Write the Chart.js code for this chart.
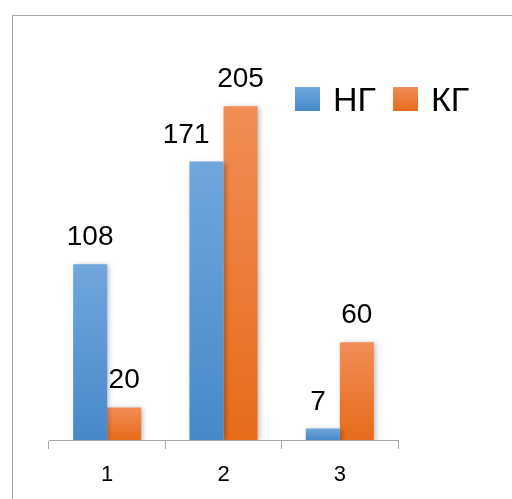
<!DOCTYPE html>
<html>
<head>
<meta charset="utf-8">
<script src="https://cdn.jsdelivr.net/npm/chart.js@4"></script>
<style>
  body { margin: 0; background: #fff; }
  #wrap { position: relative; width: 512px; height: 499px; overflow: hidden; }
  #frame { position: absolute; left: 12px; top: 15px; width: 600px; height: 600px;
           border-left: 1px solid #a6a6a6; border-top: 1px solid #a6a6a6; }
  canvas { position: absolute; left: 0; top: 0; }
</style>
</head>
<body>
<div id="wrap">
  <div id="frame"></div>
  <canvas id="chart" width="512" height="499"></canvas>
</div>
<script>
const categories = ["1", "2", "3"];
const seriesNames = ["НГ", "КГ"];
const ngValues = [108, 171, 7];
const kgValues = [20, 205, 60];

const FONT = "'Liberation Sans', Arial, sans-serif";

// per-bar vertical gradient, lighter at the top
function barGradient(top, bottom) {
    return function (ctx) {
        const chart = ctx.chart;
        if (!chart.chartArea || ctx.type !== "data") return bottom;
        const y = chart.scales.y;
        const yTop = y.getPixelForValue(ctx.raw);
        const yBase = y.getPixelForValue(0);
        const g = chart.ctx.createLinearGradient(0, yTop, 0, yBase + 0.01);
        g.addColorStop(0, top);
        g.addColorStop(1, bottom);
        return g;
    };
}

const colors = [
    ["#70a7dd", "#4689c9"],
    ["#f28d57", "#e66c1b"]
];

const decorations = {
    id: "decorations",
    beforeDatasetsDraw(chart) {
        const ctx = chart.ctx;
        ctx.save();
        ctx.shadowColor = "rgba(0,0,0,0.28)";
        ctx.shadowBlur = 5;
        ctx.shadowOffsetX = 2;
        ctx.shadowOffsetY = 1;
    },
    afterDatasetsDraw(chart) {
        const ctx = chart.ctx;
        ctx.restore();

        // value labels, pushed left when the next bar is in the way
        ctx.save();
        ctx.fillStyle = "#000";
        ctx.font = "28px " + FONT;
        ctx.textAlign = "center";
        ctx.textBaseline = "alphabetic";
        const metas = chart.data.datasets.map((ds, di) => chart.getDatasetMeta(di));
        chart.data.datasets.forEach((ds, di) => {
            metas[di].data.forEach((bar, i) => {
                const text = String(ds.data[i]);
                const baseline = bar.y - 19;
                let x = bar.x;
                const next = metas[di + 1] && metas[di + 1].data[i];
                if (next && next.y < baseline) {
                    const w = ctx.measureText(text).width;
                    const maxRight = next.x - next.width / 2 - 14;
                    if (x + w / 2 > maxRight) x = maxRight - w / 2;
                }
                ctx.fillText(text, x, baseline);
            });
        });
        ctx.restore();

        // legend
        ctx.save();
        ctx.font = "34px " + FONT;
        ctx.textBaseline = "alphabetic";
        let x = 295;
        const top = 87, size = 24;
        seriesNames.forEach((name, i) => {
            const g = ctx.createLinearGradient(0, top, 0, top + size);
            g.addColorStop(0, colors[i][0]);
            g.addColorStop(1, colors[i][1]);
            ctx.fillStyle = g;
            ctx.fillRect(x, top, size + 1, size);
            ctx.fillStyle = "#000";
            ctx.fillText(name, x + 38, top + 24);
            x += 98;
        });
        ctx.restore();
    }
};

new Chart(document.getElementById("chart"), {
    type: "bar",
    data: {
        labels: categories,
        datasets: [{
            label: seriesNames[0],
            data: ngValues,
            backgroundColor: barGradient(colors[0][0], colors[0][1]),
            categoryPercentage: 0.585,
            barPercentage: 1
        }, {
            label: seriesNames[1],
            data: kgValues,
            backgroundColor: barGradient(colors[1][0], colors[1][1]),
            categoryPercentage: 0.585,
            barPercentage: 1
        }]
    },
    options: {
        responsive: false,
        animation: false,
        devicePixelRatio: 1,
        layout: { padding: { left: 49, right: 114, top: 33, bottom: 0 } },
        plugins: {
            legend: { display: false },
            tooltip: { enabled: false }
        },
        scales: {
            x: {
                grid: {
                    display: true,
                    drawOnChartArea: false,
                    offset: true,
                    tickLength: 9,
                    color: "#a6a6a6",
                    lineWidth: 1
                },
                border: { display: true, color: "#a6a6a6", width: 1 },
                ticks: { color: "#000", font: { family: FONT, size: 22 }, padding: 13 },
                afterFit(axis) { axis.height = 59; }
            },
            y: {
                display: false,
                min: 0,
                max: 250
            }
        }
    },
    plugins: [decorations]
});
</script>
</body>
</html>
